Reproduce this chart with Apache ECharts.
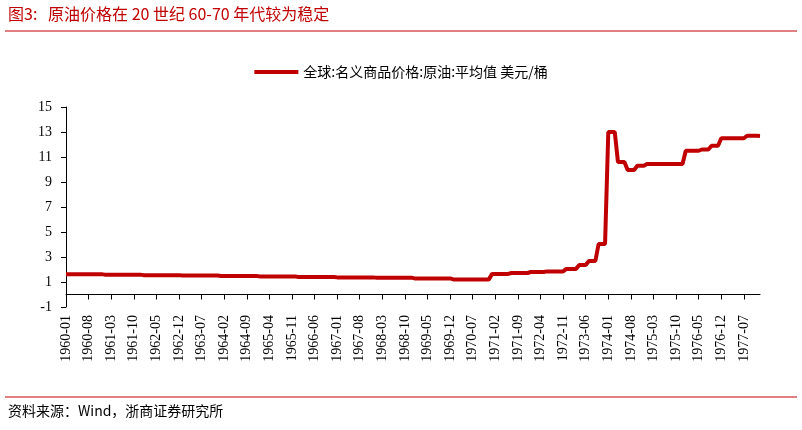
<!DOCTYPE html>
<html><head><meta charset="utf-8">
<script src="https://cdn.jsdelivr.net/npm/echarts@6/dist/echarts.min.js"></script>
<style>body{margin:0;background:#fff}#c{width:802px;height:430px}</style>
</head><body><div id="c"></div>
<script>
var years = [1960,1961,1962,1963,1964,1965,1966,1967,1968,1969,1970,1971,1972,1973,1974,1975,1976,1977];
var p1960 = [1.63,1.63,1.63,1.63,1.63,1.63,1.63,1.63,1.63,1.63,1.63,1.63];
var p1961 = [1.59,1.59,1.59,1.59,1.59,1.59,1.59,1.59,1.59,1.59,1.59,1.59];
var p1962 = [1.55,1.55,1.55,1.55,1.55,1.55,1.55,1.55,1.55,1.55,1.55,1.55];
var p1963 = [1.52,1.52,1.52,1.52,1.52,1.52,1.52,1.52,1.52,1.52,1.52,1.52];
var p1964 = [1.48,1.48,1.48,1.48,1.48,1.48,1.48,1.48,1.48,1.48,1.48,1.48];
var p1965 = [1.45,1.45,1.45,1.45,1.45,1.45,1.45,1.45,1.45,1.45,1.45,1.45];
var p1966 = [1.40,1.40,1.40,1.40,1.40,1.40,1.40,1.40,1.40,1.40,1.40,1.40];
var p1967 = [1.37,1.37,1.37,1.37,1.37,1.37,1.37,1.37,1.37,1.37,1.37,1.37];
var p1968 = [1.35,1.35,1.35,1.35,1.35,1.35,1.35,1.35,1.35,1.35,1.35,1.35];
var p1969 = [1.29,1.29,1.29,1.29,1.29,1.29,1.29,1.29,1.29,1.29,1.29,1.29];
var p1970 = [1.21,1.21,1.21,1.21,1.21,1.21,1.21,1.21,1.21,1.21,1.21,1.21];
var p1971 = [1.65,1.65,1.65,1.65,1.65,1.65,1.72,1.72,1.72,1.72,1.72,1.72];
var p1972 = [1.80,1.80,1.80,1.80,1.80,1.85,1.85,1.85,1.85,1.85,1.85,2.05];
var p1973 = [2.05,2.05,2.05,2.36,2.36,2.36,2.68,2.68,2.68,4.04,4.04,4.04];
var p1974 = [13.0,13.0,13.0,10.6,10.6,10.6,9.96,9.96,9.96,10.3,10.3,10.3];
var p1975 = [10.44,10.44,10.44,10.44,10.44,10.44,10.44,10.44,10.44,10.44,10.44,10.44];
var p1976 = [11.5,11.5,11.5,11.5,11.5,11.6,11.6,11.6,11.9,11.9,11.9,12.5];
var p1977 = [12.5,12.5,12.5,12.5,12.5,12.5,12.5,12.7,12.7,12.7,12.7,12.68];
var yearly = [p1960,p1961,p1962,p1963,p1964,p1965,p1966,p1967,p1968,p1969,p1970,p1971,p1972,p1973,p1974,p1975,p1976,p1977];

var months = [], values = [];
years.forEach(function (y, i) {
    yearly[i].forEach(function (v, m) {
        months.push(y + '-' + (m < 9 ? '0' : '') + (m + 1));
        values.push(v);
    });
});

var myChart = echarts.init(document.getElementById('c'));
myChart.setOption({
    animation: false,
    graphic: [
        { type: 'text', left: 8, top: 6, style: { text: '图3:   原油价格在 20 世纪 60-70 年代较为稳定', fill: '#c00000', font: '16px "Noto Sans CJK SC", serif' } },
        { type: 'line', shape: { x1: 5, y1: 31, x2: 797, y2: 31 }, style: { stroke: '#c00000', lineWidth: 1 } },
        { type: 'line', shape: { x1: 5, y1: 397, x2: 797, y2: 397 }, style: { stroke: '#c00000', lineWidth: 1 } },
        { type: 'text', left: 8, top: 404, style: { text: '资料来源：Wind，浙商证券研究所', fill: '#000', font: '14px "Noto Sans CJK SC", serif' } }
    ],
    legend: {
        top: 60,
        left: 'center',
        itemWidth: 44,
        itemHeight: 4,
        icon: 'rect',
        textStyle: { fontFamily: '"Noto Sans CJK SC"', fontSize: 14, color: '#000' }
    },
    grid: { left: 66, right: 42, top: 107, bottom: 123 },
    xAxis: {
        type: 'category',
        data: months,
        boundaryGap: false,
        axisLine: { lineStyle: { color: '#000' } },
        axisTick: { interval: 6, lineStyle: { color: '#000' } },
        axisLabel: { interval: 6, rotate: 90, color: '#000', fontFamily: '"Liberation Serif", serif', fontSize: 14 }
    },
    yAxis: {
        type: 'value',
        min: -1, max: 15, interval: 2,
        splitLine: { show: false },
        axisLine: { show: true, lineStyle: { color: '#000' } },
        axisTick: { show: true, lineStyle: { color: '#000' } },
        axisLabel: { color: '#000', fontFamily: '"Liberation Serif", serif', fontSize: 14, margin: 14 }
    },
    series: [{
        name: '全球:名义商品价格:原油:平均值 美元/桶',
        type: 'line',
        data: values,
        showSymbol: false,
        color: '#c00000',
        lineStyle: { width: 4 }
    }]
});
</script></body></html>
